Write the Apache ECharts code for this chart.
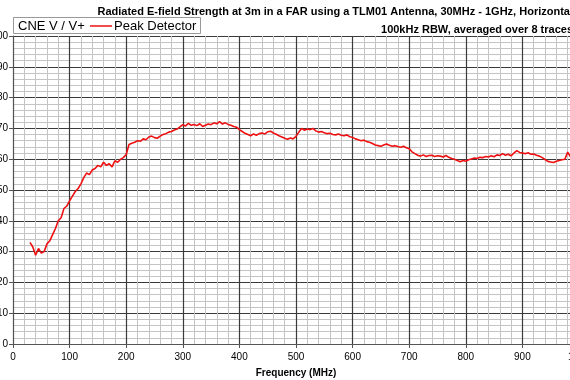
<!DOCTYPE html>
<html><head><meta charset="utf-8">
<script src="https://cdn.jsdelivr.net/npm/echarts@6/dist/echarts.min.js"></script>
<style>html,body{margin:0;padding:0;background:#fff}#c{width:570px;height:380px}</style>
</head><body><div id="c"></div>
<script>
const titleLines = ["Radiated E-field Strength at 3m in a FAR using a TLM01 Antenna, 30MHz - 1GHz, Horizontal", "100kHz RBW, averaged over 8 traces"];
const legendPrefix = "CNE V / V+";
const seriesName = "Peak Detector";
const xAxisName = "Frequency (MHz)";
const freqs = [30,35,40,45,50,55,60,65,70,75,80,85,90,95,100,105,110,115,120,125,130,135,140,145,150,155,160,165,170,175,180,185,190,195,200,205,210,215,220,225,230,235,240,245,250,255,260,265,270,275,280,285,290,295,300,305,310,315,320,325,330,335,340,345,350,355,360,365,370,375,380,385,390,395,400,405,410,415,420,425,430,435,440,445,450,455,460,465,470,475,480,485,490,495,500,505,510,515,520,525,530,535,540,545,550,555,560,565,570,575,580,585,590,595,600,605,610,615,620,625,630,635,640,645,650,655,660,665,670,675,680,685,690,695,700,705,710,715,720,725,730,735,740,745,750,755,760,765,770,775,780,785,790,795,800,805,810,815,820,825,830,835,840,845,850,855,860,865,870,875,880,885,890,895,900,905,910,915,920,925,930,935,940,945,950,955,960,965,970,975,980,985,990,995,1000];
const peak = [33,31.5,28.8,31,29.5,30,32.5,33.5,35.5,37.5,40,41,44,44.8,46.5,48,49.5,50.5,52,54,55.5,55,56.5,57,58,57.5,59,58,58.5,57.5,59.5,59,60,60.5,61.5,64.8,65.2,65.5,66,65.8,66.6,66.3,67.2,67.5,67,66.8,67.5,68,68.3,68.8,69,69.5,69.8,70.5,71.2,70.8,71.6,71,71.3,70.9,71.5,70.6,71,71.4,71.2,71.8,71.5,72.2,71.4,71.8,71.3,71,70.6,70.4,69.6,69,68.4,68,67.6,68.2,67.8,68.3,68.5,68.2,68.9,69.1,68.5,68.1,67.6,67.2,66.8,66.5,66.9,66.6,67.4,68.8,70,69.4,69.8,69.6,70,69.2,68.8,69,68.6,68.3,68.4,68,67.9,68.2,67.8,67.6,67.9,67.3,67.1,66.6,66.3,66,66.2,65.7,65.5,65.1,64.6,64.4,64.2,64.6,64.9,64.5,64.2,64.4,64.1,63.9,64.2,63.7,63.4,62.4,61.8,61.3,61,61.4,60.9,61.2,61.3,60.9,61.1,61,60.7,61.2,60.6,60.2,60,59.6,59.2,59.6,59.3,59.8,60.1,60.4,60.2,60.6,60.5,60.9,60.7,61.1,60.8,61.4,61.2,61.8,61.3,61.6,61.1,62,62.8,62.2,62,61.8,62.1,61.6,61.7,61.3,61,60.5,59.9,59.3,59.1,58.9,59.3,59.6,59.8,60,62.3,60.8,60.5,60.7,60.4];

const chart = echarts.init(document.getElementById('c'), null, {renderer:'canvas'});
const FONT = 'Liberation Sans, Arial, sans-serif';
chart.setOption({
  animation:false,
  backgroundColor:'#fff',
  graphic:[
    {type:'text', x:573, y:6, style:{text:titleLines[0], textAlign:'right', fill:'#000', font:'bold 11px "Liberation Sans", Arial, sans-serif'}},
    {type:'text', x:573, y:24, style:{text:titleLines[1], textAlign:'right', fill:'#000', font:'bold 11px "Liberation Sans", Arial, sans-serif'}},
    {type:'rect', shape:{x:13.5, y:17.5, width:187, height:16}, style:{fill:'#fff', stroke:'#999', lineWidth:1}, z:0},
    {type:'text', x:18, y:19.5, style:{text:legendPrefix, fill:'#000', font:'13px "Liberation Sans", Arial, sans-serif'}, z:5}
  ],
  legend:{left:90, top:19.5, itemGap:0, itemWidth:22, itemHeight:1.5, icon:'rect', padding:0,
    textStyle:{fontFamily:FONT, fontSize:13, color:'#000', padding:[0,0,0,-3]}, data:[seriesName]},
  grid:{left:13, top:36, width:566, height:308, containLabel:false, outerBoundsMode:'none'},
  xAxis:{type:'value', min:0, max:1000, interval:100,
    name:xAxisName, nameLocation:'middle', nameGap:24,
    nameTextStyle:{fontFamily:FONT, fontSize:10, fontWeight:'bold', color:'#000'},
    axisLine:{show:true, onZero:false, lineStyle:{color:'#555', width:1}},
    axisTick:{show:true, length:4, lineStyle:{color:'#555'}},
    axisLabel:{fontFamily:FONT, fontSize:10, color:'#000', margin:8, formatter:v=>String(v)},
    splitLine:{show:true, lineStyle:{color:'#3a3a3a', width:1.2}},
    minorTick:{show:false, splitNumber:5},
    minorSplitLine:{show:true, lineStyle:{color:'#c4c4c4', width:1}}},
  yAxis:{type:'value', min:0, max:100, interval:10,
    axisLine:{show:true, lineStyle:{color:'#555', width:1}},
    axisTick:{show:true, length:4, lineStyle:{color:'#555'}},
    axisLabel:{fontFamily:FONT, fontSize:10, color:'#000', margin:5, formatter:v=>String(v)},
    splitLine:{show:true, lineStyle:{color:'#3a3a3a', width:1.2}},
    minorTick:{show:false, splitNumber:5},
    minorSplitLine:{show:true, lineStyle:{color:'#c4c4c4', width:1}}},
  series:[{type:'line', name:seriesName, showSymbol:false, symbol:'none',
    data:freqs.map((f,i)=>[f, peak[i]]),
    lineStyle:{color:'#ee1111', width:1.6}, itemStyle:{color:'#ee1111'}, clip:true}]
});
</script></body></html>
